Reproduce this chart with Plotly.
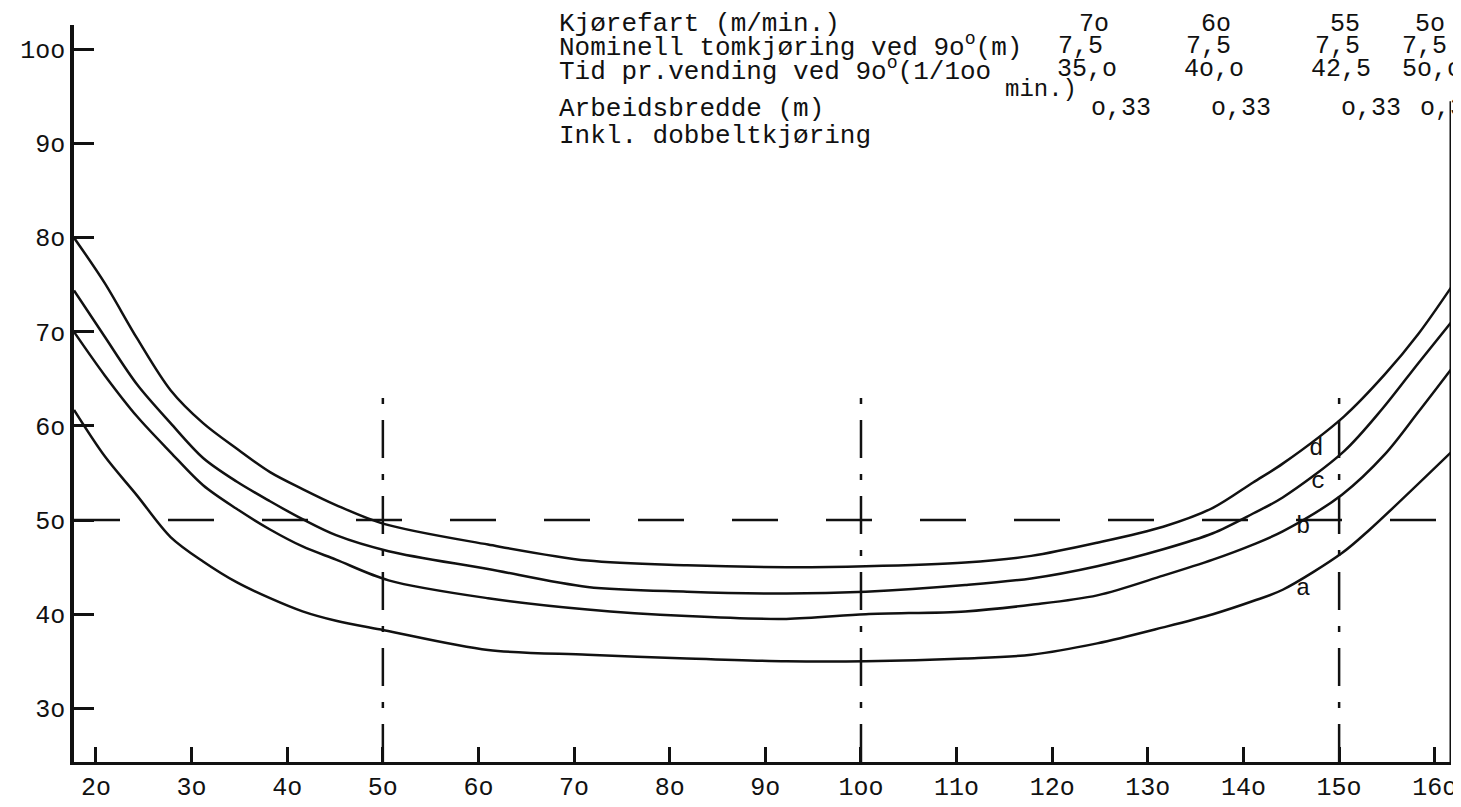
import plotly.graph_objects as go

# ---------------- data ----------------
x_d = [17.7, 20.9, 24.3, 27.8, 31.2, 34.7, 38.2, 41.6, 45.1, 50.1, 61.0, 71.4, 81.8, 92.2, 100.5,
       110.9, 117.8, 124.7, 131.6, 136.8, 141.0, 144.1, 150.5, 154.8, 158.3, 161.7]
y_d = [80.0, 75.2, 69.3, 63.8, 60.3, 57.6, 55.1, 53.3, 51.6, 49.6, 47.4, 45.7, 45.2, 45.0, 45.1,
       45.5, 46.2, 47.6, 49.3, 51.3, 54.0, 56.0, 61.0, 65.5, 69.8, 74.7]

x_c = [17.7, 20.9, 24.3, 27.8, 31.2, 34.7, 38.2, 41.6, 45.1, 50.6, 61.0, 71.4, 81.8, 92.2, 100.5,
       110.9, 117.8, 124.7, 131.6, 136.8, 141.0, 144.1, 150.5, 154.5, 158.3, 161.7]
y_c = [74.4, 69.5, 64.4, 60.3, 56.6, 54.1, 52.0, 50.1, 48.4, 46.7, 44.8, 42.9, 42.4, 42.2, 42.4,
       43.1, 43.8, 45.1, 46.9, 48.6, 50.7, 52.4, 57.3, 61.8, 66.7, 71.0]

x_b = [17.7, 20.9, 24.3, 27.8, 31.2, 34.7, 38.2, 41.6, 45.1, 50.6, 61.0, 71.4, 81.8, 92.2, 100.5,
       110.9, 117.8, 124.7, 131.6, 136.8, 141.0, 144.1, 150.3, 154.8, 158.3, 161.7]
y_b = [70.0, 65.4, 61.0, 57.2, 53.7, 51.2, 49.0, 47.2, 45.8, 43.6, 41.7, 40.5, 39.8, 39.5, 40.0,
       40.3, 41.0, 42.0, 44.1, 45.8, 47.4, 48.8, 52.7, 57.0, 61.5, 66.0]

x_a = [17.7, 20.9, 24.3, 27.8, 31.2, 34.7, 38.2, 41.6, 45.1, 50.1, 61.0, 71.4, 81.8, 92.2, 100.5,
       110.9, 117.8, 124.7, 131.6, 136.8, 141.0, 144.1, 150.3, 153.1, 161.7]
y_a = [61.7, 56.8, 52.6, 48.2, 45.6, 43.4, 41.7, 40.3, 39.3, 38.3, 36.2, 35.7, 35.3, 35.0, 35.0,
       35.3, 35.7, 36.9, 38.6, 40.0, 41.4, 42.6, 46.5, 48.9, 57.2]

curve_names = ["d", "c", "b", "a"]
label_x = [147.6, 147.8, 146.2, 146.2]
label_y = [57.6, 54.1, 49.3, 42.7]

x_ticks = [20, 30, 40, 50, 60, 70, 80, 90, 100, 110, 120, 130, 140, 150, 160]
x_ticktext = ["2o", "3o", "4o", "5o", "6o", "7o", "8o", "9o", "1oo", "11o", "12o", "13o", "14o", "15o", "16o"]
y_ticks = [30, 40, 50, 60, 70, 80, 90, 100]
y_ticktext = ["3o", "4o", "5o", "6o", "7o", "8o", "9o", "1oo"]

ref_x = [50, 100, 150]      # dash-dot verticals
ref_y = 50                  # dashed horizontal

row_labels = ["Kjørefart (m/min.)",
              "Nominell tomkjøring ved 9o<sup>o</sup>(m)",
              "Tid pr.vending ved 9o<sup>o</sup>(1/1oo",
              "Arbeidsbredde (m)",
              "Inkl. dobbeltkjøring"]
speed = ["7o", "6o", "55", "5o"]
empty_run = ["7,5", "7,5", "7,5", "7,5"]
turn_time = ["35,o", "4o,o", "42,5", "5o,o"]
work_width = ["o,33", "o,33", "o,33", "o,33"]

# ---------------- figure ----------------
W, H = 1461, 807
ML, MR, MT, MB = 63, 12, 17, 31
XR = [17.7, 161.7]
YR = [24.3, 102.6]
INK = "#111111"
FONT = "Liberation Mono"

def px(xpix):
    return (xpix - ML) / (W - ML - MR)

def py(ypix):
    return (H - MB - ypix) / (H - MT - MB)

fig = go.Figure()

# reference lines
fig.add_trace(go.Scatter(x=[XR[0], XR[1]], y=[ref_y, ref_y], mode="lines",
                         line=dict(color=INK, width=2.5, dash="46px,48px"),
                         hoverinfo="skip", showlegend=False))
for rx in ref_x:
    fig.add_trace(go.Scatter(x=[rx, rx], y=[YR[0], 63.5], mode="lines",
                             line=dict(color=INK, width=2.5, dash="38px,16px,6px,16px"),
                             hoverinfo="skip", showlegend=False))

# right border line
fig.add_trace(go.Scatter(x=[XR[1], XR[1]], y=[YR[0], 94.5], mode="lines",
                         line=dict(color=INK, width=3), hoverinfo="skip", showlegend=False))

for name, xs, ys in zip(curve_names, [x_d, x_c, x_b, x_a], [y_d, y_c, y_b, y_a]):
    fig.add_trace(go.Scatter(x=xs, y=ys, mode="lines", name=name,
                             line=dict(color=INK, width=2.5, shape="spline", smoothing=0.9),
                             showlegend=False))

for name, lx, ly in zip(curve_names, label_x, label_y):
    fig.add_annotation(x=lx, y=ly, xref="x", yref="y", text=name, showarrow=False,
                       xanchor="center", yanchor="middle",
                       font=dict(family=FONT, size=24, color=INK))

# text block
row_y = [16, 39, 63, 103, 131]
for t, yy in zip(row_labels, row_y):
    fig.add_annotation(x=px(549), y=py(yy), xref="paper", yref="paper", text=t,
                       showarrow=False, xanchor="left", yanchor="middle",
                       font=dict(family=FONT, size=26, color=INK))
fig.add_annotation(x=px(998), y=py(83), xref="paper", yref="paper", text="min.)",
                   showarrow=False, xanchor="left", yanchor="middle",
                   font=dict(family=FONT, size=24, color=INK))

speed_x = [1090, 1212, 1342, 1428]
run_x = [1076, 1205, 1335, 1422]
time_x = [1083, 1210, 1338, 1430]
width_x = [1117, 1238, 1368, 1448]
cols = [(speed, speed_x, 16), (empty_run, run_x, 39), (turn_time, time_x, 63), (work_width, width_x, 103)]
for vals, xs, yy in cols:
    for v, cx in zip(vals, xs):
        fig.add_annotation(x=px(cx), y=py(yy), xref="paper", yref="paper", text=v,
                           showarrow=False, xanchor="center", yanchor="middle",
                           font=dict(family=FONT, size=25, color=INK))

fig.update_layout(
    width=W, height=H,
    margin=dict(l=ML, r=MR, t=MT, b=MB),
    paper_bgcolor="white", plot_bgcolor="white",
    font=dict(family=FONT, color=INK, size=24),
    showlegend=False,
    xaxis=dict(range=XR, showgrid=False, zeroline=False, showline=True, linecolor=INK,
               linewidth=2.5, ticks="inside", ticklen=15, tickwidth=2.5, tickcolor=INK,
               tickvals=x_ticks, ticktext=x_ticktext, tickfont=dict(family=FONT, size=25, color=INK)),
    yaxis=dict(range=YR, showgrid=False, zeroline=False, showline=True, linecolor=INK,
               linewidth=3.5, ticks="inside", ticklen=20, tickwidth=2.5, tickcolor=INK,
               tickvals=y_ticks, ticktext=y_ticktext, tickfont=dict(family=FONT, size=25, color=INK)),
)

fig.write_html("out.html")
